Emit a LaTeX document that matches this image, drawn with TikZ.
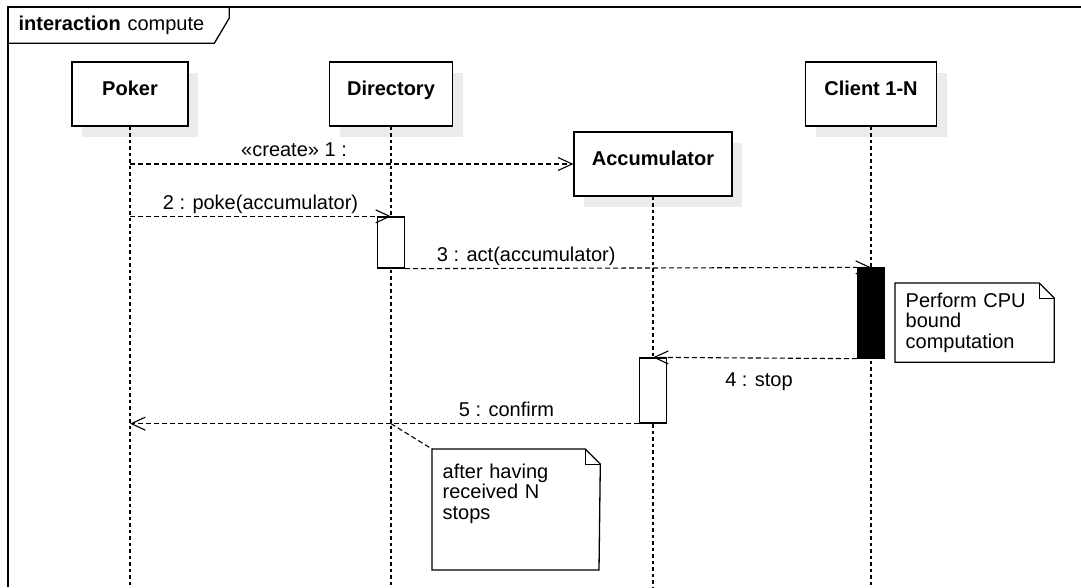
\documentclass[tikz,border=0pt]{standalone}
\usepackage{fontspec}
\setmainfont{Liberation Sans}
\usetikzlibrary{arrows.meta,positioning,shadows}

\begin{document}
\begin{tikzpicture}[x=1pt,y=-1pt,line width=1.3pt,
    every node/.style={font=\fontsize{20}{20.5}\selectfont},
    msg/.style={line width=1.1pt,dash pattern=on 5pt off 3pt,
      -{Straight Barb[length=14pt,width=13pt,line width=1.1pt]}},
    lbl/.style={inner sep=2pt,text depth=4.5pt}]
  \tikzstyle{lifeBox}=[rectangle,draw,fill=white,minimum height=64pt,
    text height=15pt,text depth=13pt,font=\fontsize{20}{20.5}\selectfont\bfseries,
    drop shadow={shadow xshift=10pt,shadow yshift=-11pt,fill=black!8,opacity=1}]
  \tikzstyle{lifeLine}=[line width=1.3pt,dash pattern=on 3.5pt off 3pt]
  \tikzstyle{actBox}=[rectangle,draw,fill=white,minimum width=27pt,inner sep=0pt]
  \tikzstyle{noteText}=[align=left,inner xsep=10pt]
  \tikzstyle{noteLink}=[line width=1.1pt,dash pattern=on 5pt off 3pt]

  \useasboundingbox (0,0) rectangle (1081,587);

  % frame
  \node[anchor=north west,text width=200pt,align=left,inner xsep=10pt,
    minimum height=35pt] (tag) at (8,7) {\textbf{interaction} compute};
  \draw (8,587) -- (tag.north west) -- (1081,7);
  \draw (tag.north east) -- ([yshift=-11pt]tag.north east)
    -- ([xshift=-15pt]tag.south east) -- (tag.south west);

  % lifelines
  \node[lifeBox, minimum width=116pt] (poker)  at (130,94)  {Poker};
  \node[lifeBox, minimum width=123pt] (dir)    at (391,94)  {Directory};
  \node[lifeBox, minimum width=131pt] (client) at (871,94)  {Client 1-N};
  \node[lifeBox, minimum width=158pt] (acc)    at (653,164) {Accumulator};

  \foreach \n in {poker,dir,acc,client}
    \draw[lifeLine] (\n.south) -- (\n.south |- 0,587);

  \node[actBox, minimum height=51pt]             (dirAct) at (391,242.5) {};
  \node[actBox, minimum height=90pt, fill=black] (cliAct) at (871,313)   {};
  \node[actBox, minimum height=65pt]             (accAct) at (653,390.5) {};

  % messages
  \path[msg] (poker |- acc.west) edge node[lbl, above, pos=.37] {«create»\ 1 :} (acc.west);
  \path[msg] (poker |- dirAct.north) edge node[lbl, above] {2 : poke(accumulator)} (dirAct.north);
  \path[msg] (dirAct.south east) edge node[lbl, above, pos=.26] {3 : act(accumulator)} (cliAct.north);
  \path[msg] (cliAct.south west) edge node[lbl, below, yshift=-12pt, pos=.48] {4 : stop} (accAct.north);
  \path[msg] (accAct.south west) edge node[lbl, above, pos=.26] {5 : confirm} (poker |- accAct.south);

  % notes
  \node[noteText, text width=138pt, anchor=north west, minimum height=78pt]
    (cpu) at (895,283) {Perform CPU\\bound\\computation};
  \draw (cpu.north west) -- ([xshift=-15pt]cpu.north east) -- ([yshift=-15pt]cpu.north east)
    -- (cpu.south east) -- (cpu.south west) -- cycle;
  \draw[line width=.8pt] ([xshift=-15pt]cpu.north east) |- ([yshift=-15pt]cpu.north east);

  \node[noteText, text width=147pt, anchor=north west, inner ysep=14pt]
    (stops) at (432,449) {after having\\received N\\stops};
  \coordinate (stopsSE) at (599,570);
  \draw (stops.north west) -- ([xshift=-15pt]stops.north east) -- ([yshift=-15pt]stops.north east)
    -- (stopsSE) -- (stops.north west |- stopsSE) -- cycle;
  \draw[line width=.8pt] ([xshift=-15pt]stops.north east) |- ([yshift=-15pt]stops.north east);
  \draw[noteLink] (dir |- accAct.south) -- (stops.north west);
\end{tikzpicture}
\end{document}
